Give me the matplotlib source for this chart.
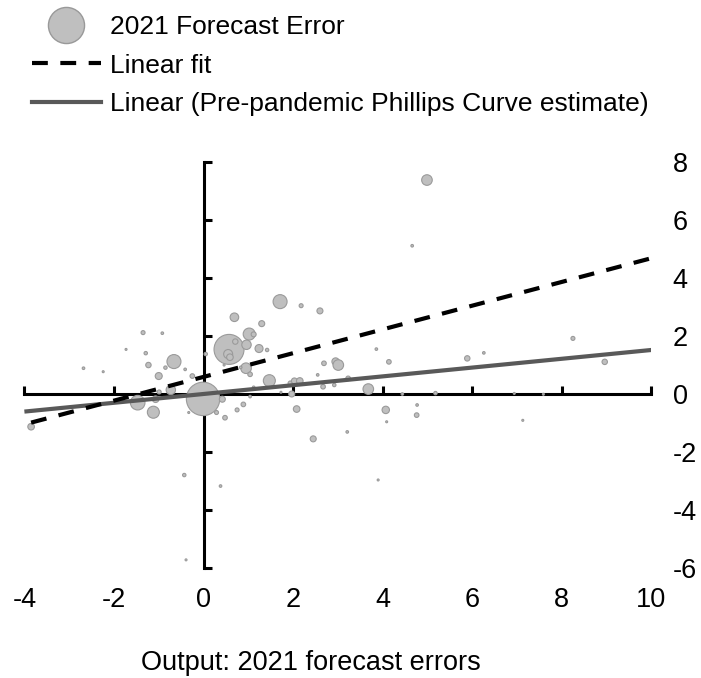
import matplotlib
matplotlib.use('Agg')
import matplotlib.pyplot as plt
from matplotlib.lines import Line2D
import numpy as np

plt.rcParams['font.family'] = ['Liberation Sans', 'DejaVu Sans']
plt.rcParams['axes.unicode_minus'] = False

# Dados: erro de previsão do produto (x) e da inflação (y) em 2021
erro_produto = [1.71, 2.18, 2.60, 0.69, 1.30, 1.02, 1.12, 0.57, 0.71, 0.55,
                0.59, 0.96, 1.24, 1.42, 0.95, 1.04, 1.47, 2.69, 2.95, 3.01,
                2.55, 2.67, 2.92, 3.23, 1.94, 2.03, 2.15, 1.97, 2.08, 2.45,
                3.21, 1.73, 1.12, 1.04, 0.89, 0.75, 0.48, 0.29, -0.01, 0.42,
                -0.33, 0.05, 0.46, 0.83, -0.25, -0.41, -0.66, -0.85, -1.00, -1.23,
                -1.29, -1.35, -0.92, -1.73, -2.68, -2.24, -0.99, -0.73, -1.07, -1.47,
                -1.12, -3.85, 4.99, 4.66, 3.86, 4.14, 3.68, 4.44, 5.18, 5.89,
                6.26, 6.94, 7.59, 8.25, 8.96, 4.07, 4.77, 4.76, 4.09, 7.13,
                -0.43, 0.38, 3.90, -0.39]
erro_inflacao = [3.19, 3.05, 2.87, 2.65, 2.43, 2.07, 2.06, 1.54, 1.81, 1.38,
                 1.27, 1.70, 1.57, 1.52, 0.89, 0.68, 0.46, 1.06, 1.12, 1.00,
                 0.66, 0.25, 0.31, 0.54, 0.37, 0.45, 0.45, 0.00, -0.52, -1.55,
                 -1.31, 0.06, 0.23, -0.09, -0.36, -0.55, -0.82, -0.64, -0.17, -0.18,
                 -0.64, 1.38, 1.00, 0.92, 0.62, 0.85, 1.12, 0.91, 0.62, 1.00,
                 1.41, 2.12, 2.10, 1.54, 0.89, 0.77, 0.07, 0.14, -0.18, -0.30,
                 -0.63, -1.13, 7.39, 5.12, 1.55, 1.11, 0.17, 0.00, 0.03, 1.23,
                 1.42, 0.02, -0.01, 1.92, 1.11, -0.55, -0.38, -0.73, -0.96, -0.91,
                 -2.80, -3.18, -2.97, -5.73]
# peso de cada economia (tamanho da bolha)
peso = [7.0, 2.0, 3.0, 4.3, 3.0, 6.0, 2.5, 15.0, 2.7, 4.5,
        3.3, 4.7, 4.0, 1.7, 5.3, 2.3, 6.0, 2.3, 3.7, 5.3,
        1.3, 2.3, 1.7, 2.3, 2.3, 3.0, 3.3, 3.0, 3.3, 3.0,
        1.3, 1.0, 1.3, 1.3, 2.3, 2.0, 2.3, 2.0, 16.7, 3.0,
        1.0, 1.7, 1.0, 1.3, 2.3, 1.3, 7.0, 1.7, 3.5, 2.7,
        1.7, 2.0, 1.3, 1.0, 1.3, 1.0, 2.0, 4.7, 3.3, 7.3,
        6.0, 3.3, 5.3, 1.3, 1.3, 2.3, 5.3, 1.3, 1.7, 2.7,
        1.3, 1.0, 1.0, 2.0, 2.7, 3.7, 1.3, 2.3, 1.0, 1.0,
        1.7, 1.3, 1.0, 1.0]

# Retas: ajuste linear e curva de Phillips pré-pandemia (intercepto, inclinação)
ajuste_linear = (0.59, 0.41)
phillips_pre = (0.0, 0.152)

x_ticks = [-4, -2, 0, 2, 4, 6, 8, 10]
y_ticks = [-6, -4, -2, 0, 2, 4, 6, 8]

fig = plt.figure(figsize=(7.01, 6.78), dpi=100)
ax = fig.add_axes([0.0348, 0.1627, 0.8943, 0.5978])
ax.set_xlim(-4, 10)
ax.set_ylim(-6, 8)

# bolhas
tam = (1.44 * np.array(peso)) ** 2
ax.scatter(erro_produto, erro_inflacao, s=tam, facecolor='#BFBFBF',
           edgecolor='#9A9A9A', linewidth=0.8, zorder=3)

# linhas de tendência
xs = np.array([min(erro_produto), 10])
ax.plot(xs, ajuste_linear[0] + ajuste_linear[1] * xs, color='black', lw=3,
        dashes=(3.8, 3.0), zorder=5)
xs2 = np.array([-4, 10])
ax.plot(xs2, phillips_pre[0] + phillips_pre[1] * xs2, color='#595959', lw=3,
        solid_capstyle='butt', zorder=4)

# eixos cruzando na origem
for lado in ['top', 'right']:
    ax.spines[lado].set_visible(False)
ax.spines['left'].set_position(('data', 0))
ax.spines['bottom'].set_position(('data', 0))
for lado in ['left', 'bottom']:
    ax.spines[lado].set_linewidth(2.2)
    ax.spines[lado].set_zorder(2)
ax.set_xticks(x_ticks)
ax.set_yticks(y_ticks)
ax.tick_params(direction='in', length=5.5, width=2.2, labelleft=False,
               labelbottom=False)

# rótulos na borda direita e inferior
eixo_y = ax.secondary_yaxis('right')
eixo_y.set_yticks(y_ticks)
eixo_y.spines['right'].set_visible(False)
eixo_y.tick_params(length=0, pad=15.5, labelsize=19.5)

eixo_x = ax.secondary_xaxis('bottom')
eixo_x.set_xticks(x_ticks)
eixo_x.spines['bottom'].set_visible(False)
eixo_x.tick_params(length=0, pad=14, labelsize=19.5)

fig.text(311 / 701, 1 - 663 / 678, 'Output: 2021 forecast errors', ha='center',
         va='center', fontsize=19.5)

# legenda
handles = [
    Line2D([], [], marker='o', linestyle='none', markersize=26,
           markerfacecolor='#BFBFBF', markeredgecolor='#999999', markeredgewidth=1),
    Line2D([], [], color='black', lw=3, dashes=(3.8, 3.0)),
    Line2D([], [], color='#595959', lw=3),
]
labels = ['2021 Forecast Error', 'Linear fit',
          'Linear (Pre-pandemic Phillips Curve estimate)']
fig.legend(handles, labels, loc='upper left', bbox_to_anchor=(32 / 701, 1 - 15 / 678),
           frameon=False, borderpad=0, borderaxespad=0, handlelength=2.6,
           handletextpad=0.35, labelspacing=0.55, fontsize=19)

fig.savefig('out.png', dpi=100)
